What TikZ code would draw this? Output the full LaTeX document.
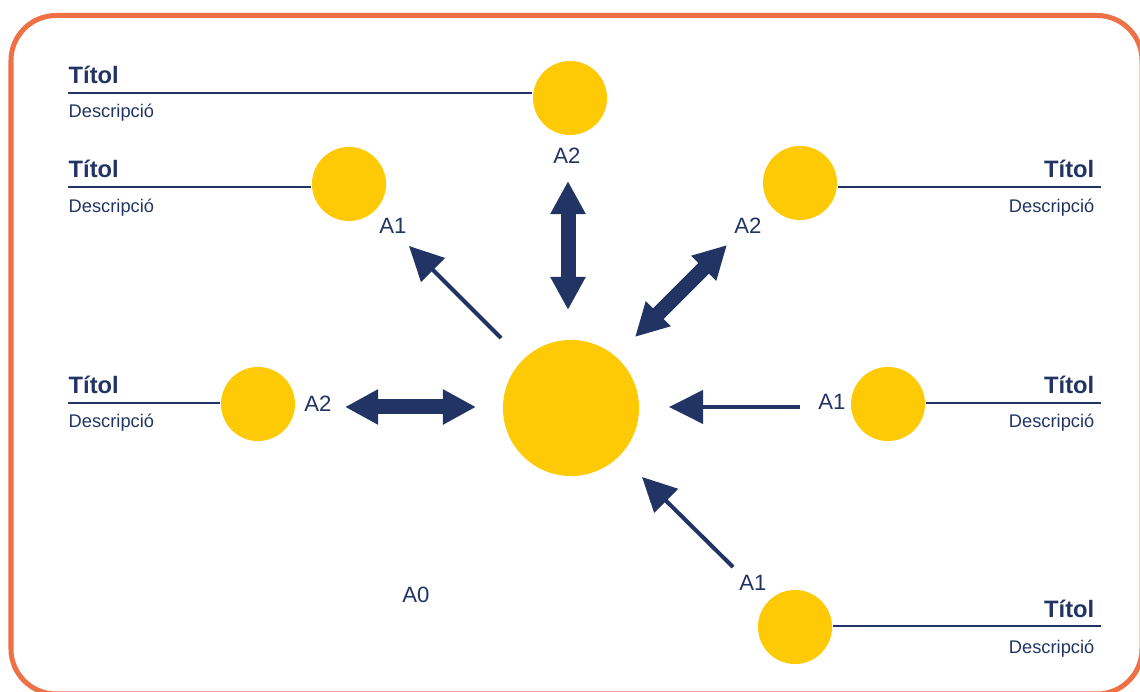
\documentclass[tikz,border=0pt]{standalone}
\usepackage{fontspec}
\setmainfont{Liberation Sans}
\usepackage{xcolor}
\usetikzlibrary{arrows.meta}

\definecolor{navy}{HTML}{213463}
\definecolor{groc}{HTML}{FDCA05}
\definecolor{taronja}{HTML}{EE7146}

\tikzset{
	bola/.style={circle, fill=groc, inner sep=0pt, minimum size=0.74cm},
	titol/.style={inner sep=0pt, text=navy, font=\fontsize{6.75}{8}\selectfont\bfseries},
	descr/.style={inner sep=0pt, text=navy, font=\fontsize{5.2}{6}\selectfont},
	etiq/.style={inner sep=0pt, text=navy, font=\fontsize{6.3}{7}\selectfont},
	ratlla/.style={draw=navy, line width=0.027cm},
	fletxa/.style={draw=navy, line width=0.04cm, -{Triangle[length=0.34cm,width=0.33cm]}},
	doble/.style={draw=navy, line width=0.15cm, {Triangle[length=0.33cm,width=0.33cm]}-{Triangle[length=0.33cm,width=0.33cm]}}
}

\begin{document}
\begin{tikzpicture}[x=0.01cm, y=-0.01cm]
		\useasboundingbox (0,0) rectangle (1140,692);
		\draw[taronja, line width=0.05cm, rounded corners=0.45cm] (11,15.5) rectangle (1142,694);
		% boles
		\node[bola, minimum size=1.36cm] (centre) at (571,408) {};
		\node[bola] (dalt) at (570,98) {};
		\node[bola] (esq1) at (349,184) {};
		\node[bola] (dre1) at (800,183) {};
		\node[bola] (esq2) at (258,404) {};
		\node[bola] (dre2) at (888,404) {};
		\node[bola] (baix) at (795,627) {};
		% titols i ratlles
		\coordinate (r1) at (68,93);
		\node[titol, anchor=base west] (t1) at (68,84) {Títol};
		\node[descr, anchor=base west] (d1) at (68,118) {Descripció};
		\draw[ratlla] (r1) -- (r1 -| dalt.west);
		\coordinate (r2) at (68,187);
		\node[titol, anchor=base west] (t2) at (68,178) {Títol};
		\node[descr, anchor=base west] (d2) at (68,213) {Descripció};
		\draw[ratlla] (r2) -- (r2 -| esq1.west);
		\coordinate (r3) at (68,403);
		\node[titol, anchor=base west] (t3) at (68,394) {Títol};
		\node[descr, anchor=base west] (d3) at (68,428) {Descripció};
		\draw[ratlla] (r3) -- (r3 -| esq2.west);
		\coordinate (r4) at (1101,187);
		\node[titol, anchor=base east] (t4) at (1095,178) {Títol};
		\node[descr, anchor=base east] (d4) at (1095,213) {Descripció};
		\draw[ratlla] (r4) -- (r4 -| dre1.east);
		\coordinate (r5) at (1101,403);
		\node[titol, anchor=base east] (t5) at (1095,394) {Títol};
		\node[descr, anchor=base east] (d5) at (1095,428) {Descripció};
		\draw[ratlla] (r5) -- (r5 -| dre2.east);
		\coordinate (r6) at (1101,626);
		\node[titol, anchor=base east] (t6) at (1095,618) {Títol};
		\node[descr, anchor=base east] (d6) at (1095,653) {Descripció};
		\draw[ratlla] (r6) -- (r6 -| baix.east);
		% etiquetes
		\node[etiq] (e1) at (567,156) {A2};
		\node[etiq] (e2) at (393,226) {A1};
		\node[etiq] (e3) at (748,226) {A2};
		\node[etiq] (e4) at (318,404) {A2};
		\node[etiq] (e5) at (832,402) {A1};
		\node[etiq] (e6) at (753,583) {A1};
		\node[etiq] (e7) at (416,595) {A0};
		% fletxes
		\coordinate (f1a) at (501,338);
		\coordinate (f1b) at (409,246);
		\draw[fletxa] (f1a) -- (f1b);
		\coordinate (f2a) at (568,310);
		\coordinate (f2b) at (568,181);
		\draw[doble] (f2a) -- (f2b);
		\coordinate (f3a) at (635,337);
		\coordinate (f3b) at (727,245);
		\draw[doble] (f3a) -- (f3b);
		\coordinate (f4a) at (476,407);
		\coordinate (f4b) at (345,407);
		\draw[doble] (f4a) -- (f4b);
		\coordinate (f5a) at (800,407);
		\coordinate (f5b) at (669,407);
		\draw[fletxa] (f5a) -- (f5b);
		\coordinate (f6a) at (733,567);
		\coordinate (f6b) at (642,477);
		\draw[fletxa] (f6a) -- (f6b);
	\end{tikzpicture}
\end{document}
